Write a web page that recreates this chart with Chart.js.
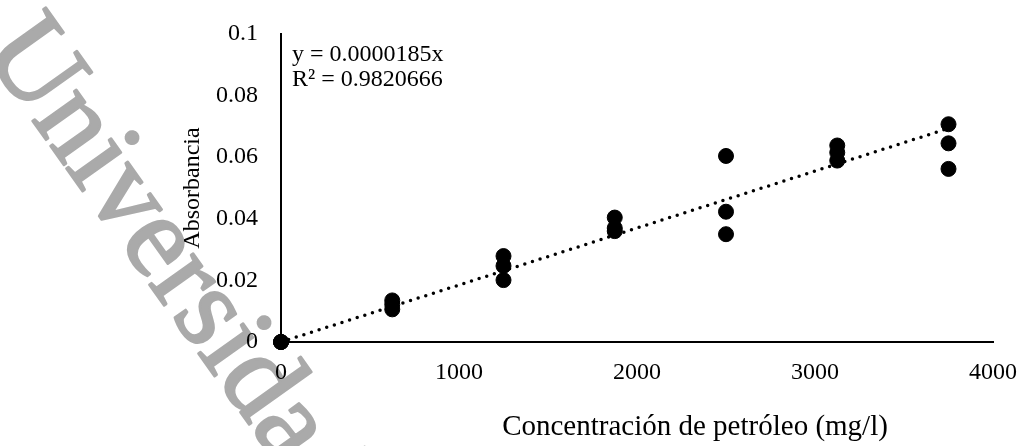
<!DOCTYPE html>
<html lang="es">

<head>
    <meta charset="UTF-8">
    <title>Curva de calibración - petróleo</title>
    <script src="https://cdn.jsdelivr.net/npm/chart.js"></script>
    <style>
        body { margin: 0; background: #fff; }
        canvas { display: block; }
    </style>
</head>

<body>
    <canvas id="graficoCalibracion" width="1019" height="446"></canvas>
</body>

</html>

<script>
    // lecturas de absorbancia, tres réplicas por estándar
    const concentracion = [0, 0, 0, 625, 625, 625, 1250, 1250, 1250, 1875, 1875, 1875,
        2500, 2500, 2500, 3125, 3125, 3125, 3750, 3750, 3750]
    const absorbancia = [0, 0, 0, 0.0135, 0.0122, 0.0106, 0.0279, 0.0247, 0.0201, 0.0404, 0.0370, 0.0360,
        0.0604, 0.0423, 0.0350, 0.0638, 0.0615, 0.0589, 0.0707, 0.0645, 0.0562]

    // ajuste lineal por el origen
    const pendiente = 0.0000185
    const r2 = 0.9820666
    const tendenciaX = [0, 3750]

    const xTicks = [0, 1000, 2000, 3000, 4000]
    const yTicks = [0, 0.02, 0.04, 0.06, 0.08, 0.1]
    const yTickLabels = ['0', '0.02', '0.04', '0.06', '0.08', '0.1']

    const fuente = '"Liberation Serif", "Times New Roman", serif'

    const puntos = concentracion.map(function (c, i) {
        return { x: c, y: absorbancia[i] }
    })
    const tendencia = tendenciaX.map(function (x) {
        return { x: x, y: pendiente * x }
    })

    // fondo blanco y texto de marca de agua en diagonal
    const marcaAgua = {
        id: 'marcaAgua',
        beforeDraw(chart) {
            const ctx = chart.ctx
            ctx.save()
            ctx.fillStyle = '#fff'
            ctx.fillRect(0, 0, chart.width, chart.height)
            ctx.translate(-18, 50)
            ctx.rotate(54.5 * Math.PI / 180)
            ctx.fillStyle = '#aaaaaa'
            ctx.strokeStyle = '#aaaaaa'
            ctx.lineWidth = 2.5
            ctx.lineJoin = 'round'
            ctx.font = '117px ' + fuente
            ctx.textBaseline = 'alphabetic'
            ctx.fillText('Universidad', 0, 0)
            ctx.strokeText('Universidad', 0, 0)
            ctx.restore()
        }
    }

    // ecuación de la recta y título del eje x
    const textos = {
        id: 'textos',
        afterDraw(chart) {
            const ctx = chart.ctx
            const area = chart.chartArea
            ctx.save()
            ctx.fillStyle = '#000'
            ctx.textBaseline = 'middle'
            ctx.textAlign = 'left'
            ctx.font = '24px ' + fuente
            ctx.fillText('y = ' + pendiente.toFixed(7) + 'x', area.left + 11, area.top + 21)
            ctx.fillText('R² = ' + r2.toFixed(7), area.left + 11, area.top + 46)

            ctx.textAlign = 'center'
            ctx.font = '29px ' + fuente
            ctx.fillText('Concentración de petróleo (mg/l)', area.left + 414, 427)
            ctx.restore()
        }
    }

    const ctx = document.getElementById('graficoCalibracion')

    new Chart(ctx, {
        type: 'scatter',
        data: {
            datasets: [{
                label: 'Absorbancia',
                data: puntos,
                backgroundColor: '#000',
                borderColor: '#000',
                pointRadius: 7.5,
                pointHoverRadius: 7.5,
                clip: false
            }, {
                label: 'Lineal',
                data: tendencia,
                showLine: true,
                pointRadius: 0,
                borderColor: '#000',
                borderWidth: 3.5,
                borderDash: [0, 8],
                borderCapStyle: 'round',
                clip: false
            }]
        },
        options: {
            responsive: false,
            animation: false,
            events: [],
            layout: {
                padding: { top: 34, right: 26, bottom: 0, left: 0 }
            },
            plugins: {
                legend: { display: false },
                tooltip: { enabled: false }
            },
            scales: {
                x: {
                    type: 'linear',
                    min: 0,
                    max: 4000,
                    afterBuildTicks: function (scale) {
                        scale.ticks = xTicks.map(function (v) { return { value: v } })
                    },
                    afterFit: function (scale) {
                        scale.height = 104
                        scale.paddingLeft = 0
                        scale.paddingRight = 0
                    },
                    grid: { display: false, drawTicks: false },
                    border: { color: '#000', width: 2 },
                    ticks: {
                        padding: 16,
                        color: '#000',
                        font: { family: fuente, size: 24 },
                        callback: function (value) { return String(value) }
                    }
                },
                y: {
                    min: 0,
                    max: 0.1,
                    afterBuildTicks: function (scale) {
                        scale.ticks = yTicks.map(function (v) { return { value: v } })
                    },
                    afterFit: function (scale) {
                        scale.width = 281
                        scale.paddingTop = 0
                        scale.paddingBottom = 0
                    },
                    grid: { display: false, drawTicks: false },
                    border: { color: '#000', width: 2 },
                    ticks: {
                        padding: 23,
                        color: '#000',
                        font: { family: fuente, size: 24 },
                        callback: function (value, index) { return yTickLabels[index] }
                    },
                    title: {
                        display: true,
                        text: 'Absorbancia',
                        color: '#000',
                        font: { family: fuente, size: 24 },
                        padding: { top: 178, bottom: 0 }
                    }
                }
            }
        },
        plugins: [marcaAgua, textos]
    })
</script>
